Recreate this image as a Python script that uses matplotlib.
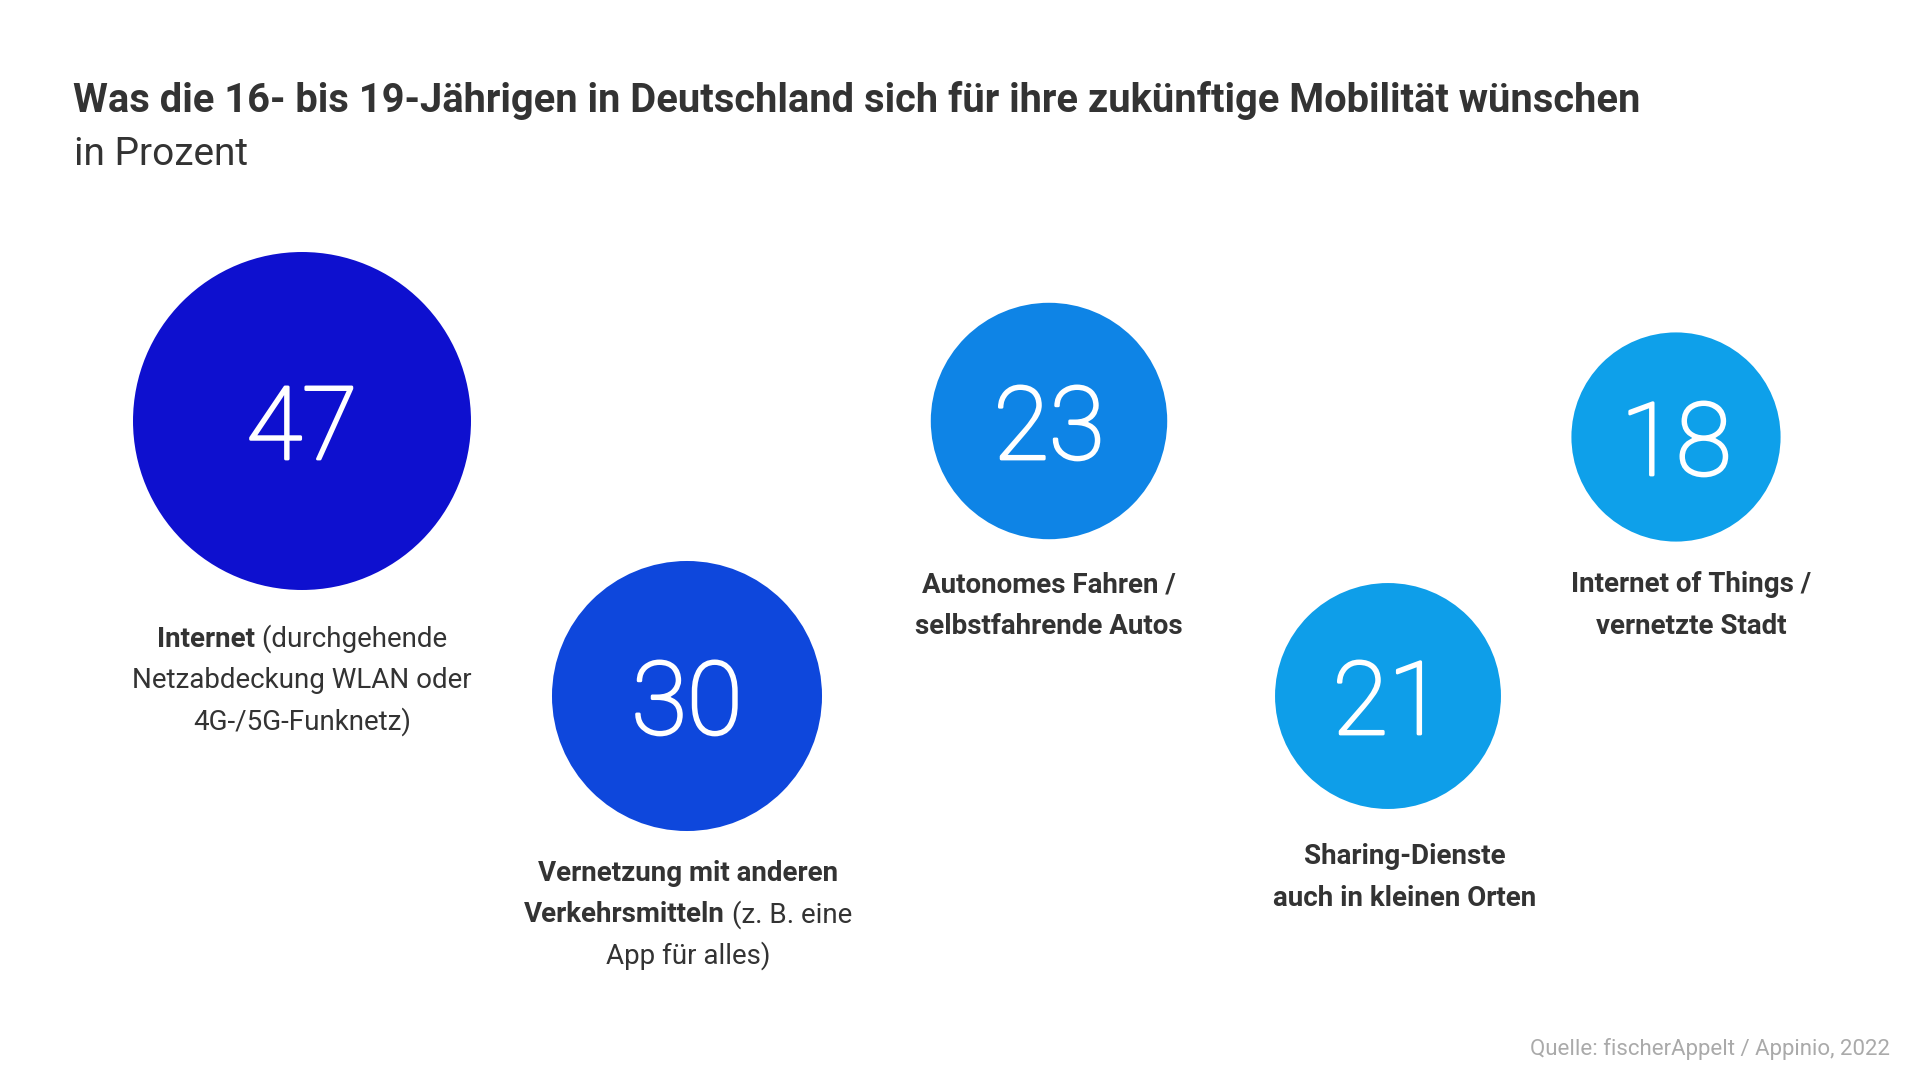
import matplotlib.pyplot as plt
import matplotlib.patheffects as pe
import numpy as np
from matplotlib.patches import Circle

# data
values = [47, 30, 23, 21, 18]
colors = ["#0E10CF", "#0E47DC", "#0E84E6", "#0E9EE9", "#0EA0EA"]
labels = [
    [[("Internet", "bold"), (" (durchgehende", "normal")],
     [("Netzabdeckung WLAN oder", "normal")],
     [("4G-/5G-Funknetz)", "normal")]],
    [[("Vernetzung mit anderen", "bold")],
     [("Verkehrsmitteln", "bold"), (" (z. B. eine", "normal")],
     [("App für alles)", "normal")]],
    [[("Autonomes Fahren /", "bold")],
     [("selbstfahrende Autos", "bold")]],
    [[("Sharing-Dienste", "bold")],
     [("auch in kleinen Orten", "bold")]],
    [[("Internet of Things /", "bold")],
     [("vernetzte Stadt", "bold")]],
]

title = "Was die 16- bis 19-Jährigen in Deutschland sich für ihre zukünftige Mobilität wünschen"
subtitle = "in Prozent"
source = "Quelle: fischerAppelt / Appinio, 2022"

# layout (pixels): bubble centres, label centre x and first-line y
centers = [(302, 421), (687, 696), (1049, 421), (1388, 696), (1676, 437)]
label_pos = [(302, 647), (688, 881), (1049, 592), (1405, 864), (1691, 592)]
scale = 24.65  # radius per sqrt(percent)
line_h = 41.5

plt.rcParams["font.family"] = ["Roboto", "DejaVu Sans"]

W, H = 1920, 1081
fig = plt.figure(figsize=(W / 100, H / 100), dpi=100, facecolor="white")
ax = fig.add_axes([0, 0, 1, 1])
ax.set_xlim(0, W)
ax.set_ylim(H, 0)
ax.set_aspect("equal")
ax.axis("off")

# bubbles
for v, c, (cx, cy) in zip(values, colors, centers):
    r = scale * np.sqrt(v)
    ax.add_patch(Circle((cx, cy), r, color=c, lw=0))
    ax.text(cx, cy + 38, str(v), color="white", fontsize=73, fontweight="light",
            ha="center", va="baseline",
            path_effects=[pe.withStroke(linewidth=2.0, foreground="white")])

# labels with mixed weights, centred per line
renderer = fig.canvas.get_renderer()
for lines, (lx, ly) in zip(labels, label_pos):
    for i, segs in enumerate(lines):
        y = ly + i * line_h
        txts = []
        widths = []
        for s, w in segs:
            t = ax.text(0, y, s, fontsize=20, fontweight=w, color="#333333",
                        ha="left", va="baseline")
            bb = t.get_window_extent(renderer)
            widths.append(bb.width)
            txts.append(t)
        x = lx - sum(widths) / 2
        for t, wd in zip(txts, widths):
            t.set_x(x)
            x += wd

ax.text(73, 112, title, fontsize=28.7, fontweight="bold", color="#333333",
        ha="left", va="baseline")
ax.text(74, 165, subtitle, fontsize=28, fontweight="normal", color="#333333",
        ha="left", va="baseline")
ax.text(1890, 1055, source, fontsize=16, fontweight="normal", color="#AAAAAA",
        ha="right", va="baseline")

fig.savefig("out.png", dpi=100, facecolor="white")
